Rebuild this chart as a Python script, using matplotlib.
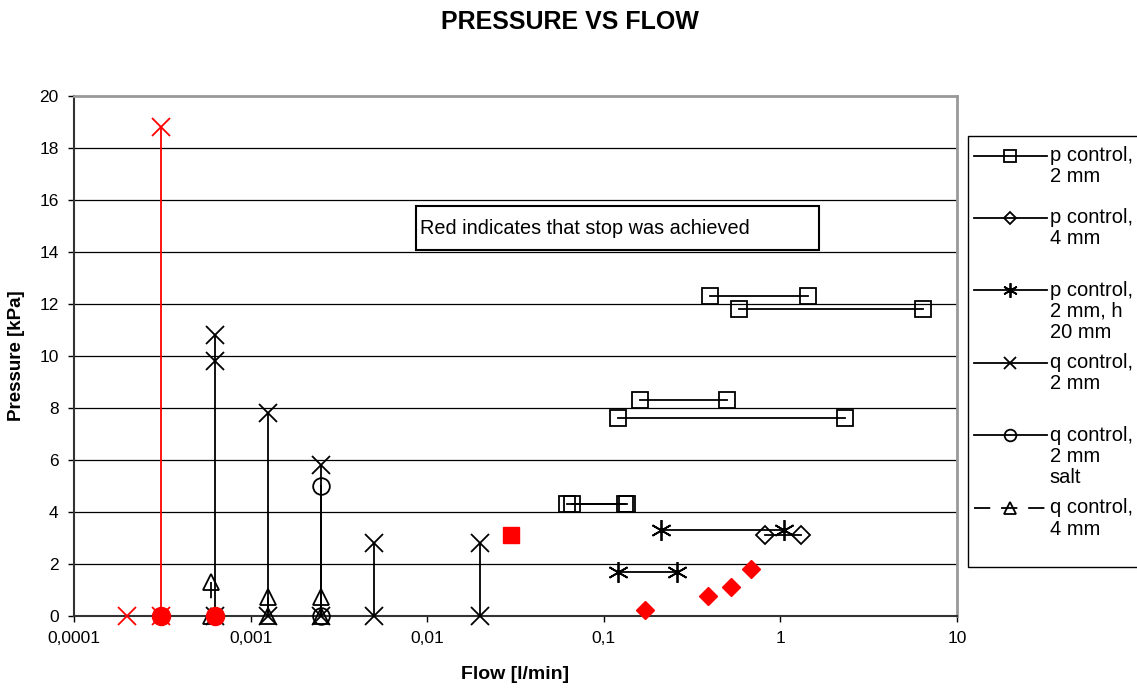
import numpy as np
import matplotlib
matplotlib.use("Agg")
import matplotlib.pyplot as plt
from matplotlib.patches import Rectangle

plt.rcParams['font.family'] = ['Liberation Sans', 'DejaVu Sans']

nan = np.nan

# p control, 2 mm (squares) - pairs joined by a line
p2_flow = [0.40, 1.44, nan, 0.58, 6.4, nan, 0.16, 0.50, nan, 0.12, 2.33, nan,
           0.062, 0.132, nan, 0.066, 0.135]
p2_pres = [12.3, 12.3, nan, 11.8, 11.8, nan, 8.3, 8.3, nan, 7.6, 7.6, nan,
           4.3, 4.3, nan, 4.3, 4.3]

# p control, 4 mm (diamonds)
p4_flow = [0.82, 1.31]
p4_pres = [3.1, 3.1]

# p control, 2 mm, h 20 mm (asterisks)
ph_flow = [0.21, 1.05, nan, 0.12, 0.26]
ph_pres = [3.3, 3.3, nan, 1.7, 1.7]

# q control, 2 mm (x)
q2_flow = [0.000625, 0.000625, 0.000625, nan, 0.00125, 0.00125, nan,
           0.0025, 0.0025, nan, 0.005, 0.005, nan, 0.02, 0.02]
q2_pres = [10.8, 9.8, 0, nan, 7.8, 0, nan, 5.8, 0, nan, 2.8, 0, nan, 2.8, 0]

# q control, 2 mm salt (circles)
qs_flow = [0.0025, 0.0025]
qs_pres = [5.0, 0]

# q control, 4 mm (triangles)
q4_flow = [0.0006, 0.0006, nan, 0.00125, 0.00125, nan, 0.0025, 0.0025]
q4_pres = [1.3, 0, nan, 0.75, 0, nan, 0.75, 0]

# red = stop achieved
red_q2_flow = [0.0003125, 0.0003125]
red_q2_pres = [18.8, 0]
red_x_flow = [0.0002]
red_x_pres = [0]
red_circ_flow = [0.0003125, 0.000625]
red_circ_pres = [0, 0]
red_sq_flow = [0.03]
red_sq_pres = [3.1]
red_dia_flow = [0.172, 0.39, 0.527, 0.68]
red_dia_pres = [0.23, 0.77, 1.12, 1.81]

labels = ["p control,\n2 mm", "p control,\n4 mm", "p control,\n2 mm, h\n20 mm",
          "q control,\n2 mm", "q control,\n2 mm\nsalt", "q control,\n4 mm"]
xticks = [0.0001, 0.001, 0.01, 0.1, 1, 10]
xticklabels = ["0,0001", "0,001", "0,01", "0,1", "1", "10"]
yticks = list(range(0, 21, 2))

W, H = 1137, 691
fig = plt.figure(figsize=(W / 100, H / 100), dpi=100)
ax = fig.add_axes([74 / W, 1 - 616 / H, (957 - 74) / W, (616 - 96) / H])

ax.set_xscale('log')
ax.set_xlim(0.0001, 10)
ax.set_ylim(0, 20)

for y in yticks[1:-1]:
    ax.axhline(y, color='black', lw=0.9, zorder=1)

lw = 1.3
kw = dict(color='black', lw=lw, clip_on=False, zorder=3, mfc='none', mec='black', mew=1.3)
h1, = ax.plot(p2_flow, p2_pres, marker='s', ms=12, **kw)
h2, = ax.plot(p4_flow, p4_pres, marker='D', ms=9, **kw)
h3, = ax.plot(ph_flow, ph_pres, marker=(6, 2, 0), ms=15, **kw)
h4, = ax.plot(q2_flow, q2_pres, marker='x', ms=13, **kw)
h5, = ax.plot(qs_flow, qs_pres, marker='o', ms=12, **kw)
h6, = ax.plot(q4_flow, q4_pres, marker='^', ms=12, ls=(0, (9, 6)), **kw)

rk = dict(color='red', clip_on=False, zorder=4)
ax.plot(red_q2_flow, red_q2_pres, marker='x', ms=13, lw=lw, mew=1.3, **rk)
ax.plot(red_x_flow, red_x_pres, marker='x', ms=13, ls='none', mew=1.3, **rk)
ax.plot(red_circ_flow, red_circ_pres, marker='o', ms=13, ls='none', **rk)
ax.plot(red_sq_flow, red_sq_pres, marker='s', ms=11, ls='none', **rk)
ax.plot(red_dia_flow, red_dia_pres, marker='D', ms=9, ls='none', **rk)

ax.set_xticks(xticks)
ax.set_xticklabels(xticklabels)
ax.xaxis.set_minor_locator(matplotlib.ticker.NullLocator())
ax.set_yticks(yticks)
ax.tick_params(labelsize=12.5, length=4, width=1, direction='out', pad=7)
for s in ['top', 'right']:
    ax.spines[s].set_color('#999999')
    ax.spines[s].set_linewidth(2)
for s in ['left', 'bottom']:
    ax.spines[s].set_color('#333333')
    ax.spines[s].set_linewidth(1.5)

ax.set_xlabel("Flow [l/min]", fontsize=14, fontweight='bold', labelpad=14)
ax.set_ylabel("Pressure [kPa]", fontsize=13.5, fontweight='bold', labelpad=10)
fig.text(570 / W, 1 - 22 / H, "PRESSURE VS FLOW", fontsize=18, fontweight='bold',
         ha='center', va='center')

# note box
fig.patches.append(Rectangle((416 / W, 1 - 250 / H), (819 - 416) / W, 44 / H,
                             transform=fig.transFigure, fill=True, fc='white',
                             ec='black', lw=1.5, zorder=5))
fig.text(420 / W, 1 - 228 / H, "Red indicates that stop was achieved",
         fontsize=14.3, va='center', ha='left', zorder=6)

# legend frame (Excel leaves extra room at the bottom)
fig.patches.append(Rectangle((968 / W, 1 - 567 / H), 200 / W, (567 - 136) / H,
                             transform=fig.transFigure, fill=True, fc='white',
                             ec='black', lw=1, zorder=0))
leg = fig.legend([h1, h2, h3, h4, h5, h6], labels, loc='upper left',
                 bbox_to_anchor=(968 / W, 1 - 129 / H), borderaxespad=0,
                 fontsize=14.5, handlelength=3.6, markerscale=0.7,
                 frameon=False, labelspacing=1.08, handletextpad=0.15,
                 borderpad=0.3)
# put the marker level with the first line of each label, as Excel does
line_px = 21.5
for t in leg.get_texts():
    t.set_linespacing(1.15)
    nlines = t.get_text().count("\n") + 1
    t.set_position((0, -(nlines - 1) * line_px / 2))

fig.savefig("out.png", dpi=100)
